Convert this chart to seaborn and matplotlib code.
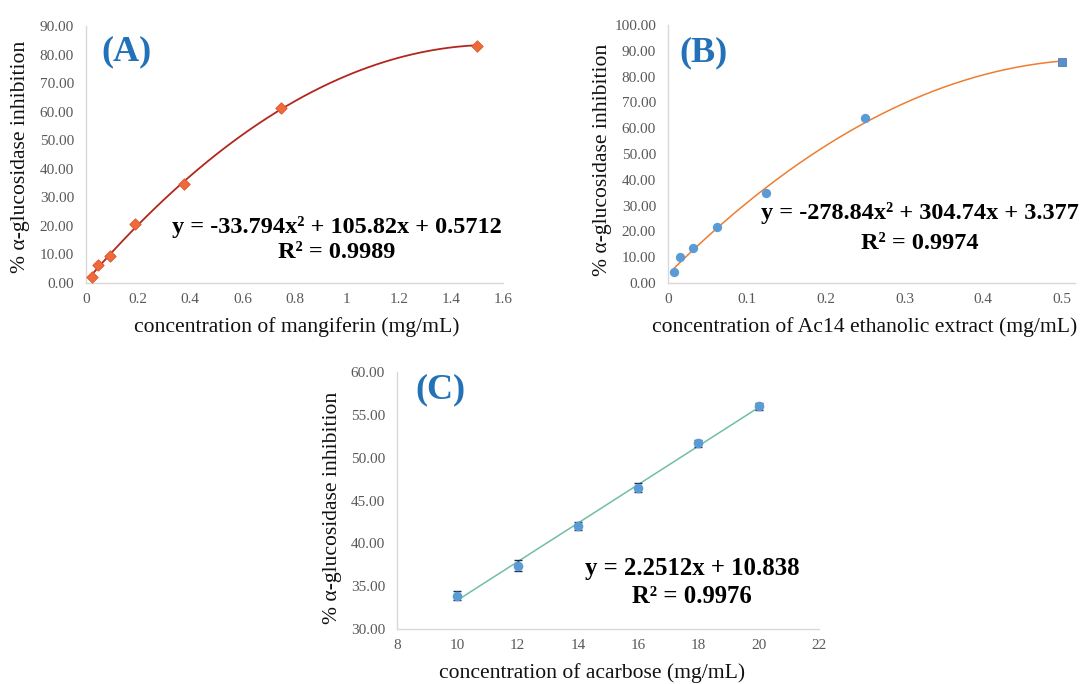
import numpy as np
import pandas as pd
import matplotlib
matplotlib.use("Agg")
import matplotlib.pyplot as plt
from matplotlib.ticker import FuncFormatter, MultipleLocator
import seaborn as sns

# ---- data -------------------------------------------------------------
# (A) mangiferin
mang_conc = [0.0234, 0.0469, 0.0938, 0.1875, 0.375, 0.75, 1.5]
mang_inhib = [2.0, 6.3, 9.3, 20.8, 34.5, 61.2, 83.1]
mang_coef = [-33.794, 105.82, 0.5712]
mang_r2 = 0.9989

# (B) Ac14 ethanolic extract
ac14_conc = [0.0078, 0.0156, 0.03125, 0.0625, 0.125, 0.25, 0.5]
ac14_inhib = [4.4, 10.0, 13.4, 21.8, 34.9, 63.8, 85.8]
ac14_coef = [-278.84, 304.74, 3.377]
ac14_r2 = 0.9974

# (C) acarbose
acar_conc = [10, 12, 14, 16, 18, 20]
acar_inhib = [33.9, 37.4, 42.0, 46.5, 51.7, 56.0]
acar_err = [0.5, 0.6, 0.5, 0.5, 0.4, 0.4]
acar_coef = [2.2512, 10.838]
acar_r2 = 0.9976

ylabel_text = "% \u03b1-glucosidase inhibition"

# ---- style ------------------------------------------------------------
sns.set_theme(style="white")
plt.rcParams["font.family"] = ["Liberation Serif", "DejaVu Serif"]

W, H = 1083, 684
fig = plt.figure(figsize=(W / 100, H / 100), dpi=100)
fig.patch.set_facecolor("white")


def rect(left, top, right, bottom):
    return [left / W, 1 - bottom / H, (right - left) / W, (bottom - top) / H]


ax_a = fig.add_axes(rect(86, 26, 503, 283))
ax_b = fig.add_axes(rect(668, 25, 1075, 283))
ax_c = fig.add_axes(rect(397, 372, 819, 629))

TICK_COLOR = "#595959"
SPINE_COLOR = "#D9D9D9"
LETTER_COLOR = "#2372B8"
LABEL_SIZE = 15.6
EQ_SIZE = 17.5
LETTER_SIZE = 26


def style_axes(ax, xlim, xstep, ylim, ystep, xlabel):
    ax.set_xlim(*xlim)
    ax.set_ylim(*ylim)
    ax.xaxis.set_major_locator(MultipleLocator(xstep))
    ax.yaxis.set_major_locator(MultipleLocator(ystep))
    ax.xaxis.set_major_formatter(FuncFormatter(lambda v, p: f"{round(v, 6):g}"))
    ax.yaxis.set_major_formatter(FuncFormatter(lambda v, p: f"{v:.2f}"))
    for s in ("top", "right"):
        ax.spines[s].set_visible(False)
    for s in ("left", "bottom"):
        ax.spines[s].set_color(SPINE_COLOR)
        ax.spines[s].set_linewidth(1.0)
    ax.tick_params(axis="both", length=0, labelsize=11, labelcolor=TICK_COLOR)
    ax.tick_params(axis="y", pad=8.6)
    ax.tick_params(axis="x", pad=7.5)
    ax.set_xlabel(xlabel, fontsize=LABEL_SIZE, color="#111111", va="center")
    ax.set_ylabel(ylabel_text, fontsize=LABEL_SIZE, color="#111111", va="center")
    ax.set_facecolor("white")


def quad(coef, x):
    return coef[0] * x ** 2 + coef[1] * x + coef[2]


def quad_label(coef):
    return f"y = {coef[0]:g}x\u00b2 + {coef[1]:g}x + {coef[2]:g}"


def bold_text(ax, x, y, s, size=EQ_SIZE, color="black"):
    ax.text(x, y, s, transform=ax.transAxes, ha="center", va="center",
            fontsize=size, fontweight="bold", color=color)


# ---- (A) --------------------------------------------------------------
df_a = pd.DataFrame({"conc": mang_conc, "inhib": mang_inhib})
xa = np.linspace(min(mang_conc), max(mang_conc), 300)
sns.lineplot(x=xa, y=quad(mang_coef, xa), ax=ax_a, color="#B3261E", lw=1.3)
sns.scatterplot(data=df_a, x="conc", y="inhib", ax=ax_a, marker="D", s=34,
                color="#EE6A3A", edgecolor="#E0552A", linewidth=0.6, zorder=3)
style_axes(ax_a, (0, 1.6), 0.2, (0, 90), 10, "concentration of mangiferin (mg/mL)")
ax_a.yaxis.set_label_coords(-0.158, 0.49)
ax_a.xaxis.set_label_coords(0.506, -0.171)
bold_text(ax_a, 0.098, 0.899, "(A)", size=LETTER_SIZE, color=LETTER_COLOR)
bold_text(ax_a, 0.602, 0.218, quad_label(mang_coef))
bold_text(ax_a, 0.600, 0.117, f"R\u00b2 = {mang_r2:.4f}")

# ---- (B) --------------------------------------------------------------
df_b = pd.DataFrame({"conc": ac14_conc, "inhib": ac14_inhib})
xb = np.linspace(min(ac14_conc), max(ac14_conc), 300)
sns.lineplot(x=xb, y=quad(ac14_coef, xb), ax=ax_b, color="#ED7D31", lw=1.1)
sns.scatterplot(data=df_b.iloc[:-1], x="conc", y="inhib", ax=ax_b, marker="o", s=45,
                color="#5B9BD5", edgecolor="#5B9BD5", linewidth=0, zorder=3)
sns.scatterplot(data=df_b.iloc[-1:], x="conc", y="inhib", ax=ax_b, marker="s", s=38,
                color="#5B8FC8", edgecolor="#4A7FB8", linewidth=0.6, zorder=3)
style_axes(ax_b, (0, 0.5165), 0.1, (0, 100), 10,
           "concentration of Ac14 ethanolic extract (mg/mL)")
ax_b.set_xticks(np.arange(0, 0.51, 0.1))
ax_b.yaxis.set_label_coords(-0.162, 0.477)
ax_b.xaxis.set_label_coords(0.483, -0.170)
bold_text(ax_b, 0.086, 0.891, "(B)", size=LETTER_SIZE, color=LETTER_COLOR)
bold_text(ax_b, 0.619, 0.271, quad_label(ac14_coef))
bold_text(ax_b, 0.619, 0.155, f"R\u00b2 = {ac14_r2:.4f}")

# ---- (C) --------------------------------------------------------------
df_c = pd.DataFrame({"conc": acar_conc, "inhib": acar_inhib, "err": acar_err})
xc = np.linspace(min(acar_conc), max(acar_conc), 50)
sns.lineplot(x=xc, y=acar_coef[0] * xc + acar_coef[1], ax=ax_c, color="#72BFA0", lw=1.1)
ax_c.errorbar(df_c["conc"], df_c["inhib"], yerr=df_c["err"], fmt="none",
              ecolor="#1F2F4F", elinewidth=1.0, capsize=3, capthick=1.0, zorder=3)
sns.scatterplot(data=df_c, x="conc", y="inhib", ax=ax_c, marker="o", s=48,
                color="#5B9BD5", edgecolor="#5B9BD5", linewidth=0, zorder=4)
style_axes(ax_c, (8, 22), 2, (30, 60), 5, "concentration of acarbose (mg/mL)")
ax_c.yaxis.set_label_coords(-0.152, 0.471)
ax_c.xaxis.set_label_coords(0.462, -0.171)
bold_text(ax_c, 0.104, 0.930, "(C)", size=LETTER_SIZE, color=LETTER_COLOR)
bold_text(ax_c, 0.699, 0.237, f"y = {acar_coef[0]:g}x + {acar_coef[1]:g}", size=17.8)
bold_text(ax_c, 0.699, 0.125, f"R\u00b2 = {acar_r2:.4f}", size=17.8)

for ax in (ax_a, ax_b, ax_c):
    leg = ax.get_legend()
    if leg is not None:
        leg.remove()

fig.savefig("out.png", dpi=100, facecolor="white")
